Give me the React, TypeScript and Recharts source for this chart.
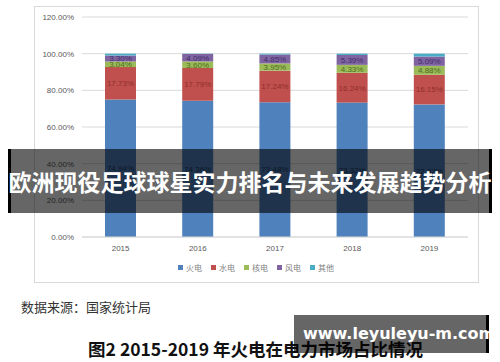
import { BarChart, Bar, XAxis, YAxis, CartesianGrid, Legend, LabelList } from "recharts";

// 2015-2019 火电在电力市场占比 (%)
const years = ["2015", "2016", "2017", "2018", "2019"];
const huodian = [74.94, 74.36, 73.48, 73.32, 72.32];
const shuidian = [17.73, 17.79, 17.24, 16.24, 16.15];
const hedian = [3.04, 3.6, 3.95, 4.33, 4.88];
const fengdian = [3.3, 4.09, 4.85, 5.39, 5.09];
const qita = [0.99, 0.16, 0.48, 0.72, 1.56];
const yTicks = [0, 20, 40, 60, 80, 100, 120];

const SERIES = [
  { key: "火电", values: huodian, color: "#4f81bd", label: "#1f3a5f" },
  { key: "水电", values: shuidian, color: "#c0504d", label: "#8e2f2c" },
  { key: "核电", values: hedian, color: "#9bbb59", label: "#4f6b1f" },
  { key: "风电", values: fengdian, color: "#8064a2", label: "#3f2f6a" },
  { key: "其他", values: qita, color: "#4bacc6", label: "" },
];

const data = years.map((y, i) => {
  const row: Record<string, string | number> = { year: y };
  SERIES.forEach((s) => {
    row[s.key] = s.values[i];
  });
  return row;
});

const FONT = '"Liberation Sans", "Noto Sans CJK SC", sans-serif';
const CJK = '"Noto Sans CJK SC", "Liberation Sans", sans-serif';

const pct = (v: unknown) => `${Number(v).toFixed(2)}%`;

// 图例按系列原顺序
const renderLegend = () => (
  <div style={{ display: "flex", justifyContent: "center", gap: 9, fontSize: 8, color: "#7f7f7f" }}>
    {SERIES.map((s) => (
      <span key={s.key} style={{ display: "flex", alignItems: "center" }}>
        <span style={{ width: 5, height: 5, background: s.color, marginRight: 3 }} />
        {s.key}
      </span>
    ))}
  </div>
);

export default function App() {
  return (
    <div
      style={{
        position: "absolute",
        left: 0,
        top: 0,
        width: 500,
        height: 362,
        background: "#fff",
        overflow: "hidden",
        fontFamily: CJK,
      }}
    >
      {/* 图表外框 */}
      <div
        style={{
          position: "absolute",
          left: 34,
          top: 6,
          width: 443,
          height: 275,
          border: "1px solid #d9d9d9",
        }}
      />
      <div style={{ position: "absolute", left: 0, top: 0 }}>
        <BarChart
          width={500}
          height={290}
          data={data}
          margin={{ top: 17, right: 32, bottom: 13, left: 0 }}
          style={{ fontFamily: FONT }}
        >
          <CartesianGrid vertical={false} stroke="#d9d9d9" />
          <XAxis
            dataKey="year"
            height={22}
            axisLine={{ stroke: "#d9d9d9" }}
            tickLine={false}
            tick={{ fill: "#595959", fontSize: 8 }}
          />
          <YAxis
            width={82}
            domain={[0, 120]}
            ticks={yTicks}
            axisLine={false}
            tickLine={false}
            tickFormatter={pct}
            tick={{ fill: "#595959", fontSize: 8 }}
          />
          <Legend
            height={18}
            content={renderLegend}
            wrapperStyle={{ left: 34, width: 444, bottom: 10, fontFamily: CJK }}
          />
          {SERIES.map((s) => (
            <Bar
              key={s.key}
              dataKey={s.key}
              stackId="a"
              fill={s.color}
              barSize={31}
              isAnimationActive={false}
            >
              {s.label && (
                <LabelList
                  dataKey={s.key}
                  position="center"
                  formatter={pct}
                  style={{ fill: s.label, fontSize: 8 }}
                />
              )}
            </Bar>
          ))}
        </BarChart>
      </div>

      <div
        style={{
          position: "absolute",
          left: 21,
          top: 297,
          fontSize: 13,
          color: "#333",
          whiteSpace: "nowrap",
        }}
      >
        数据来源：国家统计局
      </div>

      <div
        style={{
          position: "absolute",
          left: 0,
          width: 511,
          top: 336,
          textAlign: "center",
          fontSize: 17.5,
          fontWeight: 700,
          color: "#111",
          whiteSpace: "nowrap",
        }}
      >
        图2 2015-2019 年火电在电力市场占比情况
      </div>

      {/* 标题横幅 */}
      <div
        style={{
          position: "absolute",
          left: 8,
          top: 149,
          width: 478,
          height: 64,
          background: "rgba(0,0,0,0.6)",
          borderLeft: "3px solid #000",
          borderRight: "3px solid #000",
        }}
      />
      <div
        style={{
          position: "absolute",
          left: 0,
          top: 149,
          width: 500,
          height: 64,
          color: "#fff",
          fontSize: 23,
          fontWeight: 700,
          lineHeight: "64px",
          textAlign: "center",
          whiteSpace: "nowrap",
        }}
      >
        欧洲现役足球球星实力排名与未来发展趋势分析
      </div>

      {/* 网址水印 */}
      <div
        style={{
          position: "absolute",
          left: 294,
          top: 315,
          width: 195,
          height: 38,
          background: "rgba(0,0,0,0.6)",
          borderRight: "3px solid #000",
          color: "#fff",
          fontFamily: '"DejaVu Sans", sans-serif',
          fontSize: 16,
          fontWeight: 700,
          lineHeight: "38px",
          paddingLeft: 9,
          boxSizing: "border-box",
          whiteSpace: "nowrap",
        }}
      >
        www.leyuleyu-m.com
      </div>
    </div>
  );
}
